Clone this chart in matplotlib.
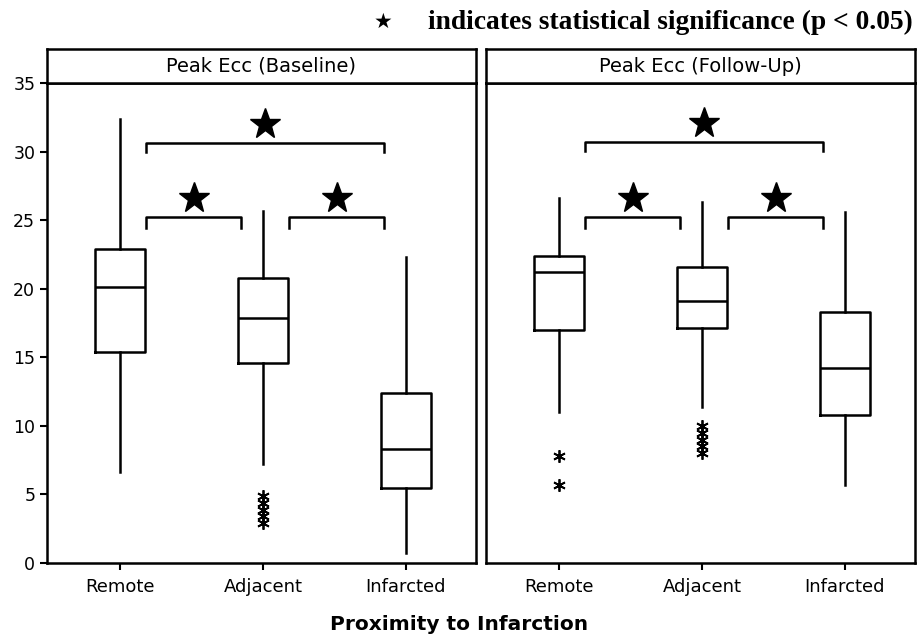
import matplotlib
matplotlib.use("Agg")
import matplotlib.pyplot as plt

# --- data ---
categories = ["Remote", "Adjacent", "Infarcted"]
panel_titles = ["Peak Ecc (Baseline)", "Peak Ecc (Follow-Up)"]

base_whislo = [6.6, 7.2, 0.7]
base_q1 = [15.4, 14.6, 5.5]
base_med = [20.1, 17.9, 8.3]
base_q3 = [22.9, 20.8, 12.4]
base_whishi = [32.4, 25.7, 22.3]
base_fliers = [[], [4.9, 4.4, 3.9, 3.4, 2.9], []]

fu_whislo = [11.0, 11.4, 5.7]
fu_q1 = [17.0, 17.1, 10.8]
fu_med = [21.2, 19.1, 14.2]
fu_q3 = [22.4, 21.6, 18.3]
fu_whishi = [26.6, 26.3, 25.6]
fu_fliers = [[7.8, 5.7], [10.0, 9.5, 9.0, 8.5, 8.0], []]

# significant pairs (index pairs) and bracket heights
sig_pairs = [(0, 1), (1, 2), (0, 2)]
base_bracket_y = [25.2, 25.2, 30.6]
fu_bracket_y = [25.2, 25.2, 30.7]

yticks = [0, 5, 10, 15, 20, 25, 30, 35]

plt.rcParams["font.family"] = ["DejaVu Sans"]

fig = plt.figure(figsize=(9.19, 6.38), dpi=100)

panels = [
    (base_whislo, base_q1, base_med, base_q3, base_whishi, base_fliers, base_bracket_y),
    (fu_whislo, fu_q1, fu_med, fu_q3, fu_whishi, fu_fliers, fu_bracket_y),
]
lefts = [47 / 919, 486 / 919]
width = 429 / 919
bottom = 1 - 563 / 638
height = 480 / 638
strip_h = 34 / 638

for p, (wlo, q1, med, q3, whi, fl, by) in enumerate(panels):
    ax = fig.add_axes([lefts[p], bottom, width, height])
    stats = []
    for i in range(3):
        stats.append(dict(whislo=wlo[i], q1=q1[i], med=med[i], q3=q3[i],
                          whishi=whi[i], fliers=fl[i]))
    ax.bxp(stats, positions=[1, 2, 3], widths=0.345, showcaps=False,
           boxprops=dict(color="black", linewidth=1.8),
           whiskerprops=dict(color="black", linewidth=1.8),
           medianprops=dict(color="black", linewidth=1.8),
           flierprops=dict(marker=(6, 2, 0), markersize=9, markeredgecolor="black",
                           markeredgewidth=1.3, linestyle="none"))
    ax.set_xlim(0.49, 3.49)
    ax.set_ylim(0, 35)
    ax.set_xticks([1, 2, 3])
    ax.set_xticklabels(categories, fontsize=13)
    ax.tick_params(axis="x", length=5, width=1.5, direction="out", pad=6)
    if p == 0:
        ax.set_yticks(yticks)
        ax.tick_params(axis="y", length=5, width=1.5, direction="out", labelsize=12.5)
    else:
        ax.set_yticks([])
    for s in ax.spines.values():
        s.set_linewidth(1.8)

    # significance brackets
    for (a, b), y in zip(sig_pairs, by):
        x0 = a + 1 + 0.18
        x1 = b + 1 - 0.15
        leg = 0.75 if b - a == 1 else 0.65
        ax.plot([x0, x0, x1, x1], [y - leg, y, y, y - leg], color="black", linewidth=1.8)
        ax.plot((x0 + x1) / 2, y + 1.4, marker="*", markersize=23, color="black")

    # strip header
    sax = fig.add_axes([lefts[p], bottom + height, width, strip_h])
    sax.set_xticks([])
    sax.set_yticks([])
    for s in sax.spines.values():
        s.set_linewidth(1.8)
    sax.text(0.5, 0.5, panel_titles[p], ha="center", va="center", fontsize=14,
             transform=sax.transAxes)

fig.text(0.5, 1 - 625 / 638, "Proximity to Infarction", ha="center", va="center",
         fontsize=14.5, fontweight="bold")
fig.text(383 / 919, 1 - 22 / 638, "\u2605", ha="center", va="center", fontsize=15)
fig.text(428 / 919, 1 - 22 / 638, "indicates statistical significance (p < 0.05)",
         ha="left", va="center", fontsize=19.8, fontweight="bold",
         family=["Liberation Serif"])

fig.savefig("out.png", dpi=100)
